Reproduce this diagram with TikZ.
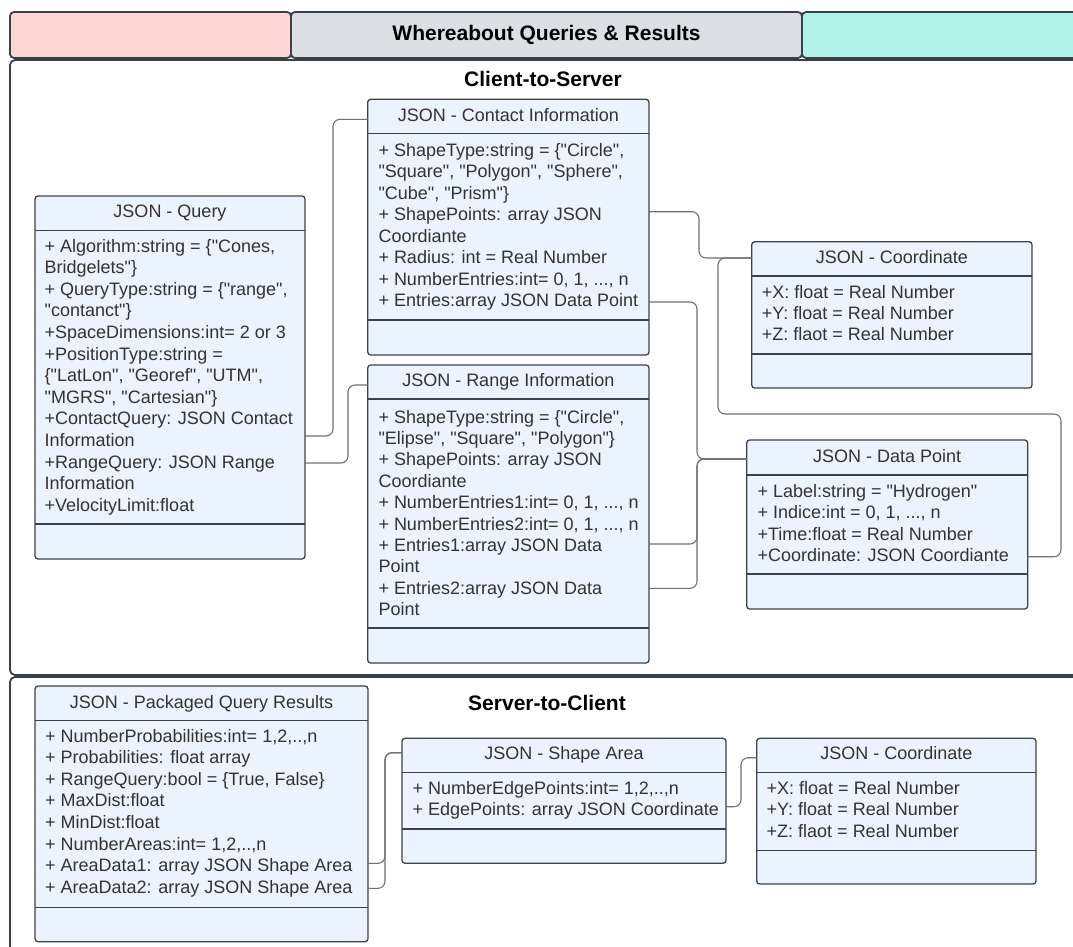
\documentclass[tikz,border=0pt]{standalone}
\usepackage{fontspec}
\setmainfont{Liberation Sans}
\definecolor{pinkband}{HTML}{FFD6D6}
\definecolor{grayband}{HTML}{DCE0E4}
\definecolor{tealband}{HTML}{B3F2E8}
\definecolor{boxfill}{HTML}{EAF3FE}
\definecolor{boxline}{HTML}{3C4249}
\definecolor{frameline}{HTML}{3A4047}
\definecolor{wire}{HTML}{707070}
\definecolor{txt}{HTML}{333333}

% three full stops, kept out of sight of \foreach's range syntax
\newcommand{\tdots}{...}
% straight double quote
\newcommand{\qq}{\textquotedbl}
% class box: outline, title compartment and operation compartment dividers
\newcommand{\umlclassbox}[7]{%
  \node[classbox, anchor=north west, minimum width={#4-#2}, minimum height={#5-#3}] (#1) at (#2,#3) {};
  \draw[divider] (#1.west |- 0,#6) -- (#1.east |- 0,#6);
  \draw[divider] (#1.west |- 0,#7) -- (#1.east |- 0,#7);
}
% attribute lines of a class: name, left x, centre y of first line, line step, lines
\newcommand{\attrlines}[5]{%
  \foreach \t [count=\i from 0] in {#5}
    \node[attr] (#1-\i) at (#2, #3+6.3+\i*#4) {\t};
}

\begin{document}
\begin{tikzpicture}[x=1pt, y=-1pt,
  band/.style={draw=frameline, line width=1.8pt, rounded corners=4pt, inner sep=0pt, outer sep=0pt, minimum height=46pt},
  frame/.style={draw=frameline, line width=1.8pt, rounded corners=5pt, inner sep=0pt, outer sep=0pt},
  classbox/.style={draw=boxline, fill=boxfill, line width=1.3pt, rounded corners=3pt, inner sep=0pt, outer sep=0pt},
  divider/.style={draw=boxline, line width=1.3pt},
  classtitle/.style={anchor=base, inner sep=0pt, text=txt, font=\fontsize{18}{21.6}\selectfont},
  attr/.style={anchor=base west, inner sep=0pt, text=txt, font=\fontsize{18}{21.6}\selectfont},
  heading/.style={anchor=base, inner sep=0pt, text=black, font=\bfseries\fontsize{21}{25}\selectfont},
  conn/.style={draw=wire, line width=1.1pt, rounded corners=7pt},
]
\useasboundingbox (0,0) rectangle (1073,946);
\clip (0,0) rectangle (1073,946);
\fill[white] (0,0) rectangle (1073,946);

% title bar
\node[band, fill=pinkband, minimum width=281pt] (bandL) at (150.5,35) {};
\node[band, fill=grayband, minimum width=511pt] (bandM) at (546.5,35) {};
\node[band, fill=tealband, minimum width=290pt] (bandR) at (947,35) {};
\node[heading] (maintitle) at (546.5,40.5) {Whereabout Queries \& Results};

% section frames
\node[frame, minimum width=1090pt, minimum height=615pt, anchor=north west] (secA) at (10,60) {};
\node[frame, minimum width=1090pt, minimum height=300pt, anchor=north west] (secB) at (10,677) {};
\node[heading] (secAtitle) at (543,86.5) {Client-to-Server};
\node[heading] (secBtitle) at (547,710) {Server-to-Client};

% ---------------- Client-to-Server ----------------
\umlclassbox{q}{35}{196}{305}{559}{230.7}{524}
\node[classtitle] (q-title) at (170,217.8) {JSON - Query};
\attrlines{q}{44.5}{245.7}{21.6}{%
  {+ Algorithm:string = \{\qq Cones,},
  {Bridgelets\qq\}},
  {+ QueryType:string = \{\qq range\qq,},
  {\qq contanct\qq\}},
  {+SpaceDimensions:int= 2 or 3},
  {+PositionType:string =},
  {\{\qq LatLon\qq, \qq Georef\qq, \qq UTM\qq,},
  {\qq MGRS\qq, \qq Cartesian\qq\}},
  {+ContactQuery: JSON Contact},
  {Information},
  {+RangeQuery: JSON Range},
  {Information},
  {+VelocityLimit:float}}

\umlclassbox{c}{367.7}{99.3}{649}{355}{133.3}{320}
\node[classtitle] (c-title) at (508.3,121.3) {JSON - Contact Information};
\attrlines{c}{378.3}{150}{21.5}{%
  {+ ShapeType:string = \{\qq Circle\qq,},
  {\qq Square\qq, \qq Polygon\qq, \qq Sphere\qq,},
  {\qq Cube\qq, \qq Prism\qq\}},
  {+ ShapePoints: array JSON},
  {Coordiante},
  {+ Radius: int = Real Number},
  {+ NumberEntries:int= 0, 1, \tdots, n},
  {+ Entries:array JSON Data Point}}

\umlclassbox{r}{367.7}{365}{649}{663}{399}{628}
\node[classtitle] (r-title) at (508.3,386.5) {JSON - Range Information};
\attrlines{r}{378.3}{416.7}{21.4}{%
  {+ ShapeType:string = \{\qq Circle\qq,},
  {\qq Elipse\qq, \qq Square\qq, \qq Polygon\qq\}},
  {+ ShapePoints: array JSON},
  {Coordiante},
  {+ NumberEntries1:int= 0, 1, \tdots, n},
  {+ NumberEntries2:int= 0, 1, \tdots, n},
  {+ Entries1:array JSON Data},
  {Point},
  {+ Entries2:array JSON Data},
  {Point}}

\umlclassbox{k}{751.7}{241.7}{1032}{388}{276}{354}
\node[classtitle] (k-title) at (891.8,263) {JSON - Coordinate};
\attrlines{k}{761.7}{291.7}{21.3}{%
  {+X: float = Real Number},
  {+Y: float = Real Number},
  {+Z: flaot = Real Number}}

\umlclassbox{d}{746.7}{440}{1027.7}{609}{475}{574}
\node[classtitle] (d-title) at (887.2,462.3) {JSON - Data Point};
\attrlines{d}{757.3}{490.7}{21.5}{%
  {+ Label:string = \qq Hydrogen\qq},
  {+ Indice:int = 0, 1, \tdots, n},
  {+Time:float = Real Number},
  {+Coordinate: JSON Coordiante}}

% ---------------- Server-to-Client ----------------
\umlclassbox{p}{35}{686}{368}{941.7}{720.7}{907.3}
\node[classtitle] (p-title) at (201.5,708) {JSON - Packaged Query Results};
\attrlines{p}{45}{735.7}{21.6}{%
  {+ NumberProbabilities:int= 1,2,..,n},
  {+ Probabilities: float array},
  {+ RangeQuery:bool = \{True, False\}},
  {+ MaxDist:float},
  {+ MinDist:float},
  {+ NumberAreas:int= 1,2,..,n},
  {+ AreaData1: array JSON Shape Area},
  {+ AreaData2: array JSON Shape Area}}

\umlclassbox{s}{402}{738.3}{726}{863.3}{772.7}{829}
\node[classtitle] (s-title) at (564,759.5) {JSON - Shape Area};
\attrlines{s}{412.5}{788.3}{21}{%
  {+ NumberEdgePoints:int= 1,2,..,n},
  {+ EdgePoints: array JSON Coordinate}}

\umlclassbox{k2}{756.7}{738.3}{1036}{884}{772.7}{850.7}
\node[classtitle] (k2-title) at (896.3,759.5) {JSON - Coordinate};
\attrlines{k2}{766.5}{788}{21.5}{%
  {+X: float = Real Number},
  {+Y: float = Real Number},
  {+Z: flaot = Real Number}}

% ---------------- associations ----------------
\draw[conn] (q.east |- 0,436) -- (333,436) -- (333,119.3) -- (c.west |- 0,119.3);
\draw[conn] (q.east |- 0,463) -- (348,463) -- (348,385) -- (r.west |- 0,385);
\draw[conn] (c.east |- 0,211.7) -- (699,211.7) -- (699,258) -- (k.west |- 0,258);
\draw[conn] (c.east |- 0,302) -- (697,302) -- (697,459) -- (d.west |- 0,459);
\draw[conn] (r.east |- 0,544) -- (697,544) -- (697,459) -- (d.west |- 0,459);
\draw[conn] (r.east |- 0,588.3) -- (697,588.3) -- (697,459) -- (d.west |- 0,459);
\draw[conn] (d.east |- 0,556.7) -- (1061,556.7) -- (1061,414) -- (718,414) -- (718,258) -- (k.west |- 0,258);
\draw[conn] (p.east |- 0,863.3) -- (385,863.3) -- (385,752.7) -- (s.west |- 0,752.7);
\draw[conn] (p.east |- 0,888.3) -- (385,888.3) -- (385,752.7) -- (s.west |- 0,752.7);
\draw[conn] (s.east |- 0,806.7) -- (741,806.7) -- (741,757.7) -- (k2.west |- 0,757.7);
\end{tikzpicture}
\end{document}
